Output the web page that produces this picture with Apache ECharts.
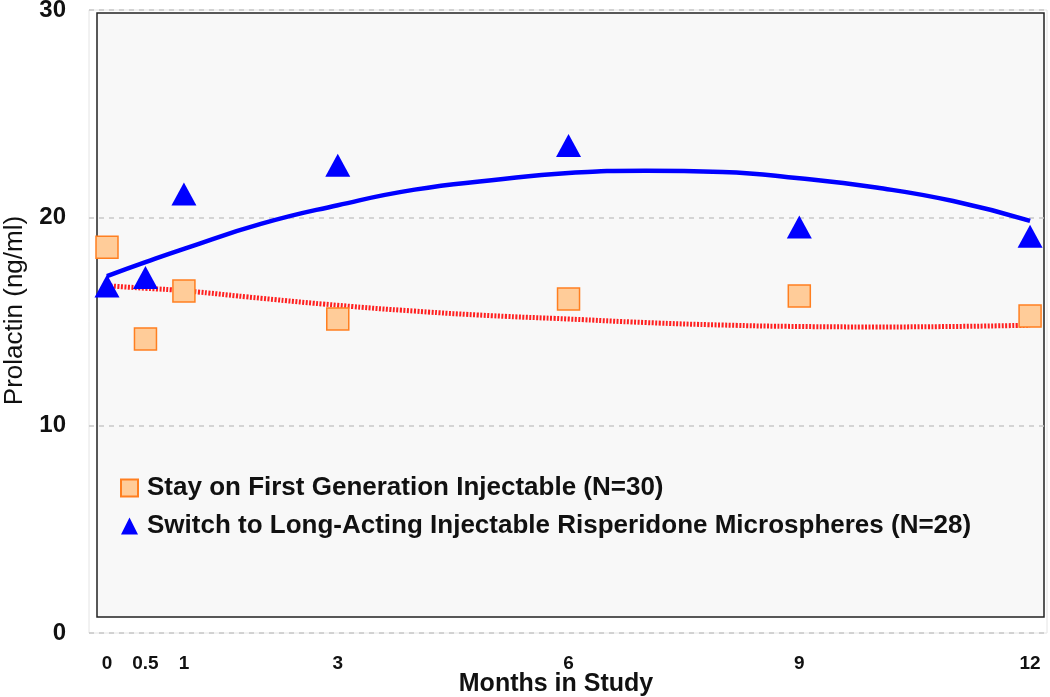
<!DOCTYPE html>
<html>
<head>
<meta charset="utf-8">
<script src="https://cdn.jsdelivr.net/npm/echarts@6/dist/echarts.min.js"></script>
<style>
  html, body { margin: 0; padding: 0; background: #fff; }
  #chart { width: 1050px; height: 697px; }
</style>
</head>
<body>
<div id="chart"></div>
<script>
// months and observed means
const months = [0, 0.5, 1, 3, 6, 9, 12]
const stayValues = [18.58, 14.16, 16.47, 15.12, 16.08, 16.23, 15.26]
const switchValues = [16.71, 17.12, 21.14, 22.53, 23.47, 19.55, 19.11]

// fitted trend curves
const trendMonths = [0, 0.5, 1, 2, 3, 4, 5, 6, 7, 8, 9, 10, 11, 12]
const switchTrend = [17.19, 17.86, 18.5, 19.7, 20.6, 21.35, 21.8, 22.15, 22.26, 22.2, 21.9, 21.45, 20.8, 19.85]
const stayTrend = [16.72, 16.6, 16.48, 16.12, 15.78, 15.5, 15.28, 15.12, 14.95, 14.83, 14.76, 14.74, 14.76, 14.82]

const xTicks = [0, 0.5, 1, 3, 6, 9, 12]

const stayName = 'Stay on First Generation Injectable (N=30)'
const switchName = 'Switch to Long-Acting Injectable Risperidone Microspheres (N=28)'

const pairs = (xs, ys) => xs.map((x, i) => [x, ys[i]])

const chart = echarts.init(document.getElementById('chart'))
const font = 'Liberation Sans, Arial, sans-serif'

chart.setOption({
  animation: false,
  textStyle: { fontFamily: font },
  grid: [
    {
      left: 89, right: 3, top: 10, bottom: 64,
      outerBoundsMode: 'none', containLabel: false,
      show: true, borderColor: '#e4e4e4', borderWidth: 1, backgroundColor: 'transparent'
    },
    {
      // inner plotting box
      left: 97, right: 6, top: 13, bottom: 80,
      outerBoundsMode: 'none', containLabel: false,
      show: true, borderColor: '#222', borderWidth: 1.5, backgroundColor: '#f8f8f8', z: -1
    }
  ],
  legend: {
    orient: 'vertical',
    left: 115,
    top: 470,
    itemGap: 12,
    itemWidth: 17,
    itemHeight: 17,
    data: [
      { name: stayName, icon: 'rect' },
      { name: switchName, icon: 'triangle' }
    ],
    textStyle: { fontFamily: font, fontSize: 26, fontWeight: 'bold', color: '#111', padding: [0, 0, 0, 4] }
  },
  xAxis: [
    {
      type: 'value',
      gridIndex: 0,
      min: -0.234,
      max: 12.22,
      name: 'Months in Study',
      nameLocation: 'middle',
      nameGap: 39,
      nameMoveOverlap: false,
      nameTextStyle: { fontSize: 25, fontWeight: 'bold', color: '#111', padding: [0, 24, 0, 0] },
      axisLine: { show: false },
      axisTick: { show: false },
      splitLine: { show: false },
      axisLabel: {
        customValues: xTicks,
        margin: 21,
        fontSize: 19,
        fontWeight: 'bold',
        color: '#111',
        showMinLabel: true,
        showMaxLabel: true
      }
    },
    { type: 'value', gridIndex: 1, show: false, min: 0, max: 1 }
  ],
  yAxis: [
    {
      type: 'value',
      gridIndex: 0,
      min: 0,
      max: 30,
      interval: 10,
      name: 'Prolactin (ng/ml)',
      nameLocation: 'middle',
      nameGap: 61,
      nameMoveOverlap: false,
      nameTextStyle: { fontSize: 26, color: '#111', padding: [0, 0, 0, 22] },
      axisLine: { show: false },
      axisTick: { show: false },
      axisLabel: { margin: 23, fontSize: 24, fontWeight: 'bold', color: '#111' },
      splitLine: { show: true, lineStyle: { color: '#c8c8c8', type: [5, 5], width: 1.5 } }
    },
    { type: 'value', gridIndex: 1, show: false, min: 0, max: 1 }
  ],
  series: [
    {
      name: 'stayTrend',
      type: 'line',
      data: pairs(trendMonths, stayTrend),
      smooth: true,
      symbol: 'none',
      silent: true,
      lineStyle: { color: '#ff2020', width: 5, type: [2, 1.5] },
      z: 2
    },
    {
      name: 'switchTrend',
      type: 'line',
      data: pairs(trendMonths, switchTrend),
      smooth: true,
      symbol: 'none',
      silent: true,
      lineStyle: { color: '#0000ff', width: 4.5 },
      z: 2
    },
    {
      name: stayName,
      type: 'scatter',
      data: pairs(months, stayValues),
      symbol: 'rect',
      symbolSize: 22,
      itemStyle: { color: '#ffcc99', borderColor: '#ff7f20', borderWidth: 1.5, opacity: 1 },
      z: 3
    },
    {
      name: switchName,
      type: 'scatter',
      data: pairs(months, switchValues),
      symbol: 'triangle',
      symbolSize: [25, 23],
      itemStyle: { color: '#0000ff', opacity: 1 },
      z: 3
    }
  ]
})
</script>
</body>
</html>
